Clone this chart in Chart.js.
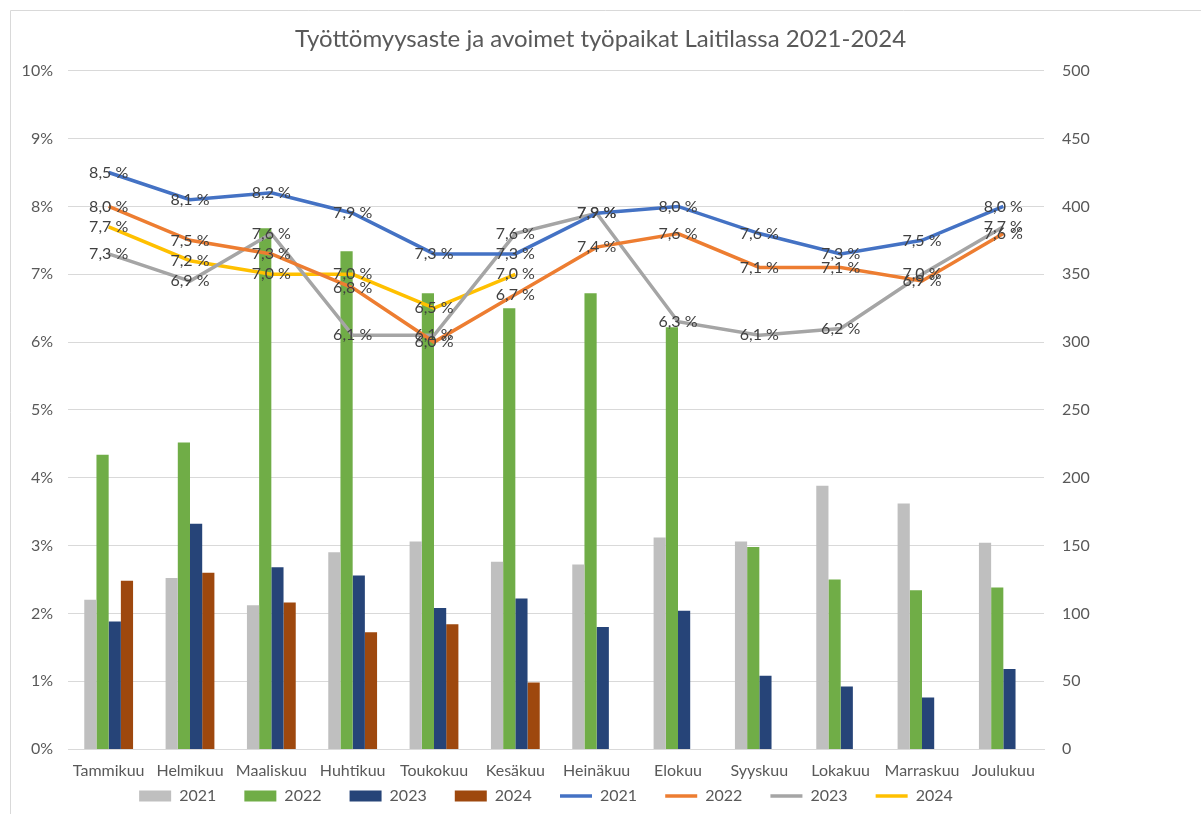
<!doctype html>
<html>
<head>
<meta charset="utf-8">
<title>Työttömyysaste ja avoimet työpaikat Laitilassa 2021-2024</title>
<style>
  html, body { margin: 0; padding: 0; background: #fff; }
  #wrap { width: 1201px; height: 814px; }
</style>
</head>
<body>
<div id="wrap"><canvas id="chart" width="1201" height="814"></canvas></div>
<script src="https://cdn.jsdelivr.net/npm/chart.js@4"></script>
<script>
// months
const months = ['Tammikuu', 'Helmikuu', 'Maaliskuu', 'Huhtikuu', 'Toukokuu', 'Kesäkuu',
  'Heinäkuu', 'Elokuu', 'Syyskuu', 'Lokakuu', 'Marraskuu', 'Joulukuu'];

// open jobs (right axis)
const jobs2021 = [110, 126, 106, 145, 153, 138, 136, 156, 153, 194, 181, 152];
const jobs2022 = [217, 226, 384, 367, 336, 325, 336, 311, 149, 125, 117, 119];
const jobs2023 = [94, 166, 134, 128, 104, 111, 90, 102, 54, 46, 38, 59];
const jobs2024 = [124, 130, 108, 86, 92, 49, null, null, null, null, null, null];

// unemployment rate % (left axis), from the data labels
const rate2021 = [8.5, 8.1, 8.2, 7.9, 7.3, 7.3, 7.9, 8.0, 7.6, 7.3, 7.5, 8.0];
const rate2022 = [8.0, 7.5, 7.3, 6.8, 6.0, 6.7, 7.4, 7.6, 7.1, 7.1, 6.9, 7.6];
const rate2023 = [7.3, 6.9, 7.6, 6.1, 6.1, 7.6, 7.9, 6.3, 6.1, 6.2, 7.0, 7.7];
const rate2024 = [7.7, 7.2, 7.0, 7.0, 6.5, 7.0, null, null, null, null, null, null];

const FONT = 'Lato, "Open Sans", sans-serif';
const TXT = '#595959';
const GRID = '#d9d9d9';

function bar(label, data, color) {
  return { type: 'bar', label, data, backgroundColor: color, borderWidth: 0,
    yAxisID: 'y1', order: 2, pointStyle: 'rect',
    barPercentage: 1, categoryPercentage: 0.6 };
}
function line(label, data, color) {
  return { type: 'line', label, data, borderColor: color, backgroundColor: color,
    borderWidth: 3.5, pointRadius: 0, tension: 0, yAxisID: 'y', order: 1,
    pointStyle: 'line', showLabels: true };
}

// frame around the chart like the Excel chart area
const framePlugin = {
  id: 'frame',
  beforeDraw(chart) {
    const ctx = chart.ctx;
    ctx.save();
    ctx.strokeStyle = GRID;
    ctx.lineWidth = 1;
    ctx.beginPath();
    ctx.moveTo(10.5, chart.height);
    ctx.lineTo(10.5, 10.5);
    ctx.lineTo(chart.width, 10.5);
    ctx.stroke();
    ctx.restore();
  }
};

// value labels on the line series, e.g. "8,5 %"
const lineLabels = {
  id: 'lineLabels',
  afterDatasetsDraw(chart) {
    const ctx = chart.ctx;
    ctx.save();
    ctx.font = '16px ' + FONT;
    ctx.fillStyle = '#404040';
    ctx.textAlign = 'center';
    ctx.textBaseline = 'middle';
    chart.data.datasets.forEach((ds, i) => {
      if (!ds.showLabels) return;
      const meta = chart.getDatasetMeta(i);
      meta.data.forEach((pt, j) => {
        const v = ds.data[j];
        if (v == null) return;
        ctx.fillText(v.toFixed(1).replace('.', ',') + ' %', pt.x, pt.y);
      });
    });
    ctx.restore();
  }
};

const defaultLabels = Chart.defaults.plugins.legend.labels.generateLabels;

new Chart(document.getElementById('chart'), {
  data: {
    labels: months,
    datasets: [
      bar('2021', jobs2021, '#bfbfbf'),
      bar('2022', jobs2022, '#70ad47'),
      bar('2023', jobs2023, '#264478'),
      bar('2024', jobs2024, '#9e480e'),
      line('2021', rate2021, '#4472c4'),
      line('2022', rate2022, '#ed7d31'),
      line('2023', rate2023, '#a5a5a5'),
      line('2024', rate2024, '#ffc000')
    ]
  },
  options: {
    responsive: false,
    animation: false,
    layout: { padding: 0 },
    plugins: {
      title: {
        display: true,
        text: 'Työttömyysaste ja avoimet työpaikat Laitilassa 2021-2024',
        color: TXT,
        font: { family: FONT, size: 24, weight: 'normal' },
        padding: { top: 25, bottom: 17 }
      },
      legend: {
        position: 'bottom',
        fullSize: false,
        labels: {
          color: TXT,
          font: { family: FONT, size: 16 },
          usePointStyle: true,
          pointStyleWidth: 32,
          boxWidth: 32,
          boxHeight: 11,
          padding: 8,
          // wider spacing between items without taller legend
          generateLabels: chart => defaultLabels(chart).map(it => Object.assign(it, { text: it.text + '\u2002\u2002 ' })),
          sort: (a, b) => a.datasetIndex - b.datasetIndex
        }
      },
      tooltip: { enabled: false }
    },
    scales: {
      x: {
        grid: { display: false, drawTicks: false },
        border: { color: GRID },
        ticks: { color: TXT, font: { family: FONT, size: 16 }, padding: 12, maxRotation: 0, autoSkip: false },
        afterFit(scale) { scale.height = 31; }
      },
      y: {
        position: 'left',
        min: 0, max: 10,
        grid: { color: GRID, drawTicks: false },
        border: { display: false },
        ticks: { stepSize: 1, color: TXT, font: { family: FONT, size: 16 }, padding: 15,
          callback: v => v + '%' },
        afterFit(scale) { scale.width = 68; }
      },
      y1: {
        position: 'right',
        min: 0, max: 500,
        grid: { display: false, drawTicks: false },
        border: { display: false },
        ticks: { stepSize: 50, color: TXT, font: { family: FONT, size: 16 }, padding: 18 },
        afterFit(scale) { scale.width = 157; }
      }
    }
  },
  plugins: [framePlugin, lineLabels]
});
</script>
</body>
</html>
